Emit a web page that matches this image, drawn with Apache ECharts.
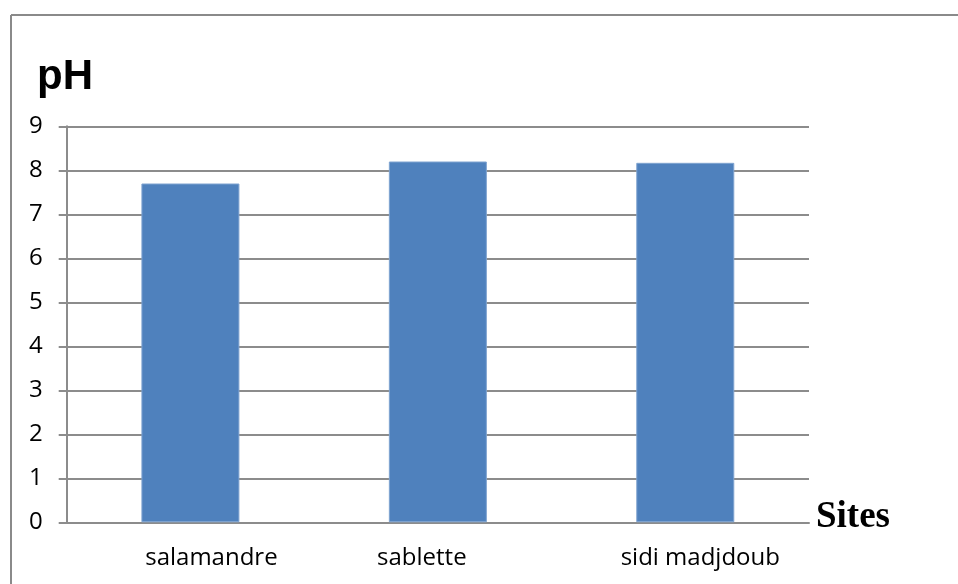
<!DOCTYPE html>
<html>
<head>
<meta charset="utf-8">
<script src="https://cdn.jsdelivr.net/npm/echarts@6/dist/echarts.min.js"></script>
<style>
html,body{margin:0;padding:0;background:#fff;}
#c{width:958px;height:584px;}
</style>
</head>
<body>
<div id="c"></div>
<script>
const categories = ['salamandre', 'sablette', 'sidi madjdoub'];
const phValues = [7.70, 8.20, 8.17];
const yTicks = [0, 1, 2, 3, 4, 5, 6, 7, 8, 9];
// label nudges seen in the reference (left/right padding of each category label)
const labelPads = [[0, 0, 0, 42], [0, 32, 0, 0], [0, 0, 0, 30]];

const chart = echarts.init(document.getElementById('c'), null, {renderer: 'canvas'});
const catData = categories.map((c, i) => ({value: c, textStyle: {padding: labelPads[i]}}));

chart.setOption({
  animation: false,
  backgroundColor: '#ffffff',
  grid: {left: 66.7, right: 149, top: 126.3, bottom: 61.7, containLabel: false},
  xAxis: {
    type: 'category',
    data: catData,
    axisLine: {show: true, lineStyle: {color: '#8c8c8c', width: 2}},
    axisTick: {show: false},
    axisLabel: {color: '#000', fontFamily: 'Open Sans', fontSize: 24, margin: 24}
  },
  yAxis: {
    type: 'value',
    min: yTicks[0],
    max: yTicks[yTicks.length - 1],
    interval: 1,
    axisLine: {show: true, lineStyle: {color: '#8c8c8c', width: 2}},
    axisTick: {show: true, length: 8, lineStyle: {color: '#8c8c8c', width: 2}},
    axisLabel: {color: '#000', fontFamily: 'Open Sans', fontSize: 24, margin: 24},
    splitLine: {show: true, lineStyle: {color: '#8c8c8c', width: 2}}
  },
  series: [{
    type: 'bar',
    data: phValues,
    barWidth: 98,
    itemStyle: {color: '#4f81bd', borderColor: '#7fa3d0', borderWidth: 1}
  }],
  graphic: [
    {type: 'line', shape: {x1: 11, y1: 15, x2: 958, y2: 15}, style: {stroke: '#8a8a8a', lineWidth: 2}},
    {type: 'line', shape: {x1: 11, y1: 15, x2: 11, y2: 584}, style: {stroke: '#8a8a8a', lineWidth: 2}},
    {type: 'text', left: 37, top: 56, style: {text: 'pH', font: 'bold 42px "Liberation Sans"', fill: '#000'}},
    {type: 'text', left: 816, top: 499, style: {text: 'Sites', font: 'bold 37px "Liberation Serif"', fill: '#000'}}
  ]
});
</script>
</body>
</html>
